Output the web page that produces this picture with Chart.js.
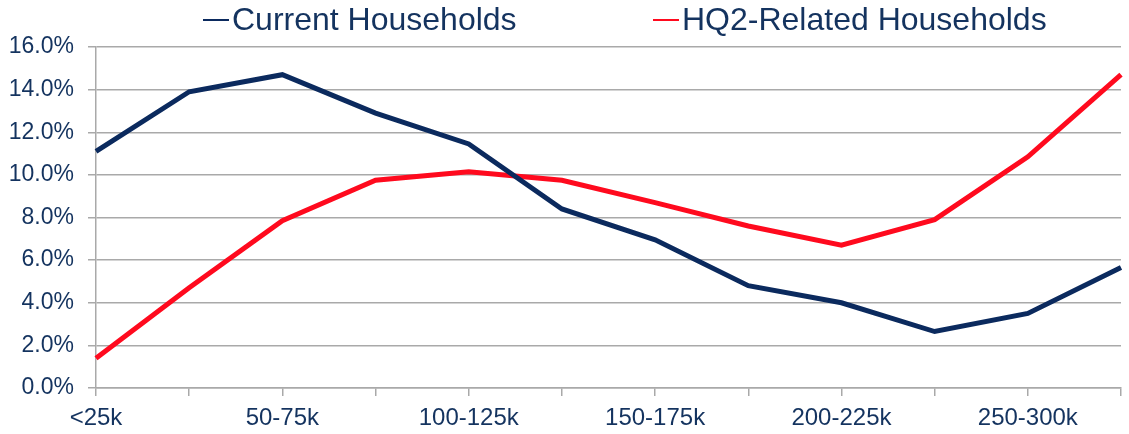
<!DOCTYPE html>
<html>
<head>
<meta charset="utf-8">
<script src="https://cdn.jsdelivr.net/npm/chart.js@4/dist/chart.umd.min.js"></script>
<style>
  html, body { margin: 0; padding: 0; background: #ffffff; }
  #wrap { width: 1129px; height: 434px; }
</style>
</head>
<body>
<div id="wrap"><canvas id="c" width="1129" height="434"></canvas></div>
<script>
const categories = ['<25k', '25-50k', '50-75k', '75-100k', '100-125k', '125-150k',
                    '150-175k', '175-200k', '200-225k', '225-250k', '250-300k', '300k+'];
const currentHouseholds = [11.1, 13.9, 14.7, 12.9, 11.45, 8.4, 6.95, 4.8, 4.0, 2.65, 3.5, 5.65];
const hq2Households = [1.4, 4.7, 7.85, 9.75, 10.15, 9.75, 8.7, 7.6, 6.7, 7.9, 10.85, 14.7];
const seriesNames = ['Current Households', 'HQ2-Related Households'];
const yTicks = [0, 2, 4, 6, 8, 10, 12, 14, 16];

const NAVY = '#0b2a5e';
const TEXT = '#14335f';
const RED = '#ff0a1e';
const GRID = '#a9a9a9';
const FONT = "'Liberation Sans', Arial, sans-serif";

const legendPlugin = {
  id: 'customLegend',
  afterDraw(chart) {
    const ctx = chart.ctx;
    const starts = [203, 653];
    ctx.save();
    ctx.font = "32px 'Liberation Sans', Arial, sans-serif";
    ctx.textBaseline = 'alphabetic';
    chart.data.datasets.forEach((ds, i) => {
      const x = starts[i];
      ctx.strokeStyle = ds.borderColor;
      ctx.lineWidth = 2;
      ctx.beginPath();
      ctx.moveTo(x, 20);
      ctx.lineTo(x + 26, 20);
      ctx.stroke();
      ctx.fillStyle = TEXT;
      ctx.fillText(ds.label, x + 29, 30);
    });
    ctx.restore();
  }
};

new Chart(document.getElementById('c'), {
  type: 'line',
  data: {
    labels: categories,
    datasets: [
      { label: seriesNames[0], data: currentHouseholds, borderColor: NAVY, backgroundColor: NAVY,
        borderWidth: 5, pointRadius: 0, tension: 0, fill: false },
      { label: seriesNames[1], data: hq2Households, borderColor: RED, backgroundColor: RED,
        borderWidth: 5, pointRadius: 0, tension: 0, fill: false }
    ]
  },
  options: {
    responsive: false,
    animation: false,
    devicePixelRatio: 1,
    layout: { padding: { left: 8, right: 6, top: 47, bottom: 0 } },
    plugins: {
      legend: { display: false },
      tooltip: { enabled: false }
    },
    scales: {
      x: {
        offset: false,
        afterFit: (axis) => { axis.height = 46; },
        grid: { drawOnChartArea: false, drawTicks: true, tickLength: 8, color: GRID, lineWidth: 1.5 },
        border: { display: true, color: GRID, width: 1.5 },
        ticks: {
          autoSkip: false, maxRotation: 0, padding: 8, color: TEXT,
          font: { family: FONT, size: 24 },
          callback: function (v, i) { return i % 2 === 0 ? categories[i] : ''; }
        }
      },
      y: {
        min: yTicks[0], max: yTicks[yTicks.length - 1],
        afterFit: (axis) => { axis.width = 88; },
        afterBuildTicks: (axis) => { axis.ticks = yTicks.map(v => ({ value: v })); },
        grid: { drawOnChartArea: true, drawTicks: true, tickLength: 8, color: GRID, lineWidth: 1.5 },
        border: { display: true, color: GRID, width: 1.5 },
        ticks: {
          padding: 14, color: TEXT,
          font: { family: FONT, size: 23 },
          callback: (v) => v.toFixed(1) + '%'
        }
      }
    }
  },
  plugins: [legendPlugin]
});
</script>
</body>
</html>
